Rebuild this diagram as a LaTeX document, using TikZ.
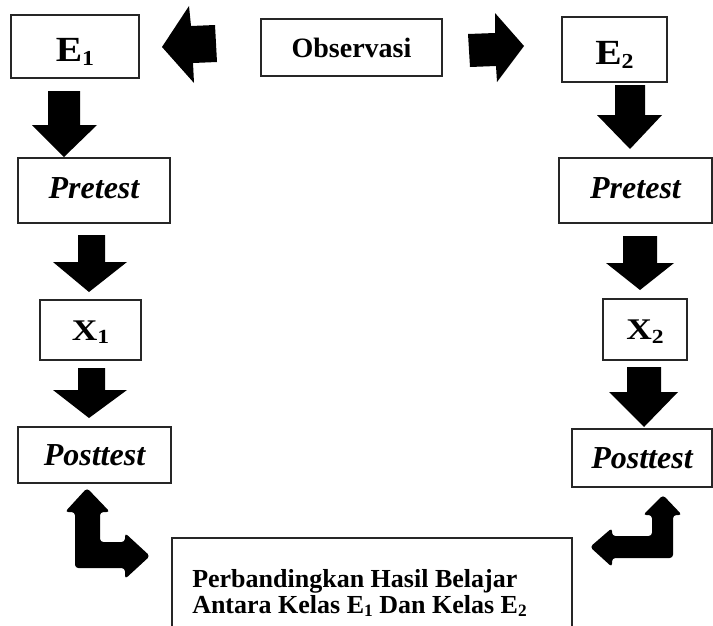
\documentclass[tikz,border=0pt]{standalone}
\usepackage{fontspec}
\setmainfont{Liberation Serif}
\usepackage{graphicx}
\newcommand{\lowsub}[2][14]{\raisebox{-2.8pt}{\fontsize{#1}{#1}\selectfont #2}}
\begin{document}
\begin{tikzpicture}[x=0.75pt,y=-0.75pt,
  box/.style={draw=black!85, line width=0.9pt, inner sep=0pt, outer sep=0pt, align=center},
  blockarrow/.style={fill=black, draw=none},
  lblock/.style={fill=black, draw=none, rounded corners=2.5pt},
  fE/.style={font=\fontsize{26.5}{30}\selectfont\bfseries, text height=22.5pt, text depth=0pt},
  fX/.style={font=\fontsize{22.5}{26}\selectfont\bfseries, text height=15pt, text depth=0pt},
  fT/.style={font=\fontsize{24}{28}\selectfont\bfseries\itshape, text height=11.5pt, text depth=0pt},
  fP/.style={font=\fontsize{24}{28}\selectfont\bfseries\itshape},
  fO/.style={font=\fontsize{21}{25}\selectfont\bfseries},
  fB/.style={font=\fontsize{19.5}{23}\selectfont\bfseries}]
\useasboundingbox (0,0) rectangle (713,625);

% boxes
\node[box, fE, minimum width=96pt, minimum height=47.25pt] (E1) at (75,46.5) {\scalebox{1.12}[1]{E\lowsub[16]{1}}};
\node[box, fO, minimum width=135.75pt, minimum height=42.75pt] (obs) at (351.5,47.5) {Observasi};
\node[box, fE, minimum width=78.75pt, minimum height=48.75pt] (E2) at (614.5,49.5) {\scalebox{1.12}[1]{E\lowsub[16]{2}}};
\node[box, fT, minimum width=114pt, minimum height=48.75pt] (pre1) at (94,190.5) {Pretest};
\node[box, fT, minimum width=114.75pt, minimum height=48.75pt] (pre2) at (635.5,190.5) {Pretest};
\node[box, fX, minimum width=75.75pt, minimum height=45pt] (x1) at (90.5,330) {\scalebox{1.18}[1]{X\lowsub[15]{1}}};
\node[box, fX, minimum width=63pt, minimum height=45.75pt] (x2) at (645,329.5) {\scalebox{1.18}[1]{X\lowsub[15]{2}}};
\node[box, fP, minimum width=114.75pt, minimum height=42pt] (post1) at (94.5,455) {Posttest};
\node[box, fP, minimum width=105pt, minimum height=43.5pt] (post2) at (642,458) {Posttest};

\begin{scope}
\clip (0,0) rectangle (713,625);
\node[box, minimum width=300pt, minimum height=82.5pt, anchor=north west] (cmp) at (172,538) {};
\end{scope}
\node[fB, anchor=base west, inner sep=0pt] (cmpA) at (192,587) {Perbandingkan Hasil Belajar};
\node[fB, anchor=base west, inner sep=0pt] (cmpB) at (192,613) {Antara Kelas E\lowsub[13]{1} Dan Kelas E\lowsub[13]{2}};

% block arrows: Observasi to E1 / E2
\fill[blockarrow] (162,47) -- (189,6) -- (191,26) -- (215,25) -- (217,62) -- (193,63) -- (194,83) -- cycle;
\fill[blockarrow] (468,34) -- (495,33) -- (495,13) -- (524,46) -- (497,82) -- (496,66) -- (470,67) -- cycle;

% left column
\fill[blockarrow] (48,91) -- (80,91) -- (80,125) -- (97,125) -- (64,157) -- (32,125) -- (48,125) -- cycle;
\fill[blockarrow] (78,235) -- (105,235) -- (105,262) -- (127,262) -- (89,292) -- (53,262) -- (78,262) -- cycle;
\fill[blockarrow] (78,368) -- (105,368) -- (105,390) -- (127,390) -- (89,418) -- (53,390) -- (78,390) -- cycle;

% right column
\fill[blockarrow] (615,85) -- (645,85) -- (645,115) -- (662,115) -- (630,149) -- (597,115) -- (615,115) -- cycle;
\fill[blockarrow] (623,236) -- (657,236) -- (657,263) -- (674,263) -- (640,290) -- (606,263) -- (623,263) -- cycle;
\fill[blockarrow] (627,367) -- (661,367) -- (661,392) -- (678,392) -- (644,427) -- (609,392) -- (627,392) -- cycle;

% L-shaped double arrows
\fill[lblock] (87,488) -- (110,512) -- (100,512) -- (100,542) -- (125,542) -- (125,533) -- (150,556) -- (125,579) -- (125,568) -- (75,568) -- (75,512) -- (65,512) -- cycle;
\fill[lblock] (663,495) -- (682,515) -- (673,515) -- (673,558) -- (612,558) -- (612,567) -- (590,547) -- (612,528) -- (612,536) -- (652,536) -- (652,515) -- (643,515) -- cycle;
\end{tikzpicture}
\end{document}
